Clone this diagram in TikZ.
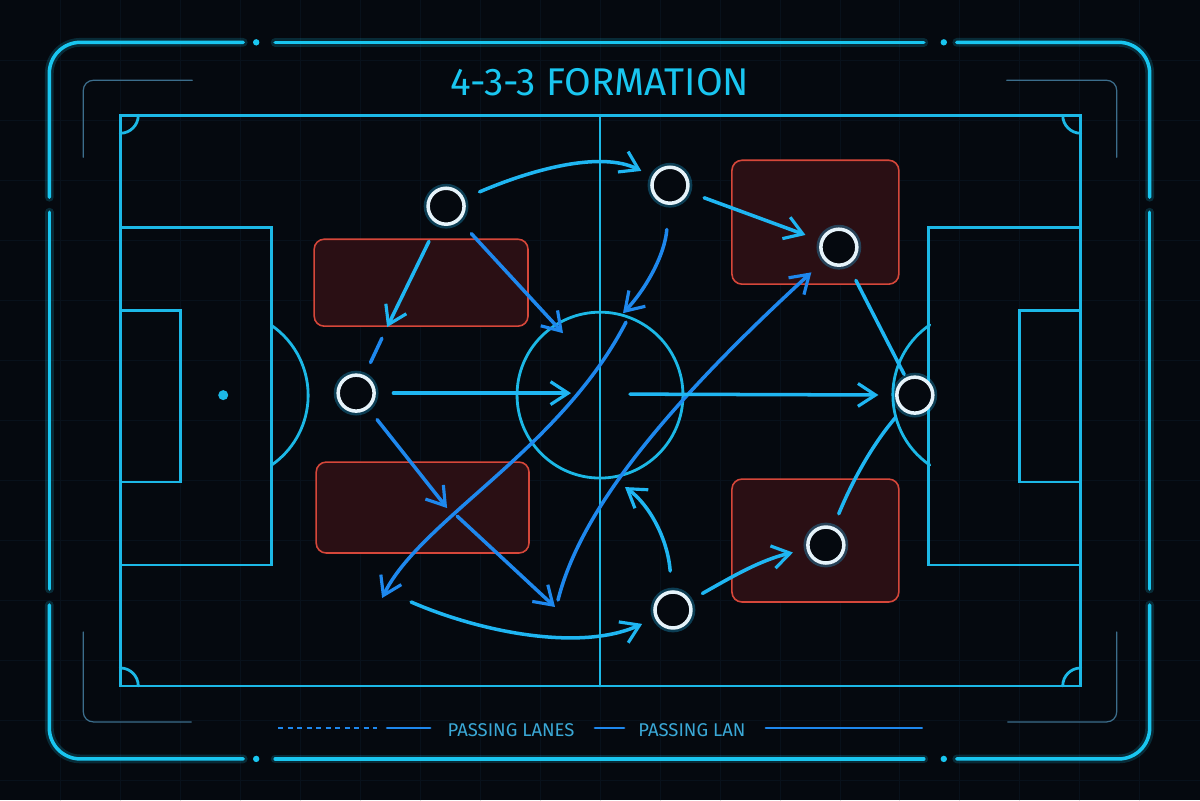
\documentclass[tikz,border=0pt]{standalone}
\usepackage{fontspec}
\setmainfont{Fira Sans}
\usetikzlibrary{arrows.meta}

\definecolor{bgc}{HTML}{05090F}
\definecolor{gridc}{HTML}{08111B}
\definecolor{pitchc}{HTML}{1CB8E6}
\definecolor{framec}{HTML}{19C6F0}
\definecolor{thinc}{HTML}{3C6E8C}
\definecolor{cyanp}{HTML}{1FB6F2}
\definecolor{bluep}{HTML}{1E88EE}
\definecolor{zonered}{HTML}{D6473A}
\definecolor{zonedark}{HTML}{2A0F14}
\definecolor{playerc}{HTML}{E6F3FA}
\definecolor{labelc}{HTML}{3AA8D6}

\begin{document}
\begin{tikzpicture}[x=0.02cm, y=-0.02cm, line cap=round,
        pitch/.style = {draw=pitchc, line width=1.6pt},
        frame/.style = {draw=framec, line width=2pt, rounded corners=0.62cm,
                        preaction={draw=framec, line width=5pt, opacity=.18}},
        thin/.style = {draw=thinc, line width=0.7pt, rounded corners=0.2cm},
        main/.style = {draw=playerc, circle, line width=2pt, minimum size=0.72cm, inner sep=0pt, fill=bgc,
                       preaction={draw=cyanp, line width=5pt, opacity=.3}},
        zone/.style = {draw=zonered, fill=zonedark, rounded corners=0.2cm, line width=0.9pt, inner sep=0pt},
        lane/.style = {line width=2pt},
        pass/.style = {lane, -{Straight Barb[length=10pt, width=13pt, line width=1.8pt]}}]

        \fill[bgc] (0,0) rectangle (1200,800);
        \foreach \g in {60,120,...,1140} \draw[gridc, line width=0.4pt] (\g,0) -- (\g,800);
        \foreach \g in {60,120,...,780} \draw[gridc, line width=0.4pt] (0,\g) -- (1200,\g);

        % outer frame and corner brackets
        \draw[frame] (243,42) -- (49,42) -- (49,197);
        \draw[frame] (275,42) -- (924,42);
        \draw[frame] (957,42) -- (1150,42) -- (1150,197);
        \draw[frame] (1150,212) -- (1150,589);
        \draw[frame] (1150,605) -- (1150,759) -- (957,759);
        \draw[frame] (924,759) -- (275,759);
        \draw[frame] (243,759) -- (49,759) -- (49,605);
        \draw[frame] (49,589) -- (49,212);
        \foreach \dx/\dy in {256/42, 944/42, 256/759, 944/759} \fill[framec] (\dx,\dy) circle[radius=3.2];
        \draw[thin] (192,80) -- (83,80) -- (83,157);
        \draw[thin] (1007,80) -- (1117,80) -- (1117,157);
        \draw[thin] (83,632) -- (83,722) -- (191,722);
        \draw[thin] (1117,632) -- (1117,722) -- (1008,722);

        \node[text=framec, font=\fontsize{22}{24}\selectfont] (title) at (600,82) {4-3-3 FORMATION};

        % pitch
        \draw[pitch] (120,115) rectangle (1081,686);
        \draw[pitch] (600,115) -- (600,686);
        \draw[pitch] (600,395) circle[radius=83];
        \draw[pitch] (120,227) rectangle (271,565);
        \draw[pitch] (120,310) rectangle (180,482);
        \draw[pitch] (929,227) rectangle (1081,565);
        \draw[pitch] (1020,310) rectangle (1081,482);
        \fill[pitchc] (223,395) circle[radius=5];
        \draw[pitch] (271,325) arc[start angle=-55.6, end angle=55.6, radius=85];
        \draw[pitch] (930,465) arc[start angle=124.4, end angle=235.6, radius=85];
        \draw[pitch] (138,115) arc[start angle=0, end angle=90, radius=18];
        \draw[pitch] (1081,133) arc[start angle=90, end angle=180, radius=18];
        \draw[pitch] (1063,686) arc[start angle=180, end angle=270, radius=18];
        \draw[pitch] (120,668) arc[start angle=270, end angle=360, radius=18];

        % pressing zones
        \node[zone, minimum width=4.28cm, minimum height=1.74cm] (z1) at (421,282.5) {};
        \node[zone, minimum width=4.26cm, minimum height=1.82cm] (z2) at (422.5,507.5) {};
        \node[zone, minimum width=3.34cm, minimum height=2.48cm] (z3) at (815.5,222) {};
        \node[zone, minimum width=3.34cm, minimum height=2.46cm] (z4) at (815.5,540.5) {};

        % players
        \node[main] (1) at (446,206) {};
        \node[main] (2) at (356,393) {};
        \node[main] (3) at (670,185) {};
        \node[main] (4) at (839,247) {};
        \node[main] (5) at (915,395) {};
        \node[main] (6) at (673,610) {};
        \node[main] (7) at (826,545) {};

        \coordinate (k1) at (387,327);
        \coordinate (k3) at (563,333);
        \coordinate (k4) at (571,393);
        \coordinate (k5) at (447,508);
        \coordinate (k6) at (457,516);
        \coordinate (k7) at (555,607);
        \coordinate (k8) at (626,322);
        \coordinate (k9) at (382,598);
        \coordinate (k10) at (558,600);
        \coordinate (k11) at (623,313);
        \coordinate (k12) at (630,394);
        \coordinate (k13) at (625,487);
        \coordinate (k14) at (411,602);

        % passing lanes
        \draw[pass, cyanp, shorten <=9.5pt, shorten >=7pt] (1) .. controls (530,170) and (600,150) .. (3);
        \draw[pass, cyanp, shorten <=11pt] (1) -- (k1);
        \draw[lane, bluep, shorten <=7pt, shorten >=8pt] (k1) -- (2);
        \draw[pass, bluep, shorten <=10pt] (1) -- (k3);
        \draw[pass, cyanp, shorten <=10pt] (2) -- (k4);
        \draw[pass, bluep, shorten <=8pt] (2) -- (k5);
        \draw[pass, bluep] (k6) -- (k7);
        \draw[pass, bluep] (k8) .. controls (560,450) and (420,520) .. (k9);
        \draw[pass, bluep, shorten >=10pt] (k10) .. controls (578,520) and (650,420) .. (4);
        \draw[pass, cyanp, shorten <=9.5pt, shorten >=9pt] (3) -- (4);
        \draw[pass, bluep, shorten <=14pt] (3) .. controls (665,255) and (645,290) .. (k11);
        \draw[pass, cyanp, shorten >=9.5pt] (k12) -- (5);
        \draw[lane, cyanp, shorten <=10pt, shorten >=2pt] (4) -- (5);
        \draw[lane, cyanp, shorten <=8pt, shorten >=5.5pt] (7) .. controls (852,482) and (872,445) .. (5);
        \draw[pass, cyanp, shorten <=11pt] (6) .. controls (668,540) and (650,505) .. (k13);
        \draw[pass, cyanp, shorten >=8pt] (k14) .. controls (480,632) and (580,652) .. (6);
        \draw[pass, cyanp, shorten <=8pt, shorten >=8pt] (6) .. controls (730,578) and (760,560) .. (7);

        % legend
        \draw[bluep, line width=1.6pt, dash pattern=on 3pt off 2.4pt, line cap=butt] (278,728) -- (377,728);
        \draw[bluep, line width=1.6pt] (387,728) -- (430,728);
        \node[text=labelc, font=\fontsize{10.5}{12}\selectfont] (lg1) at (511,730) {PASSING LANES};
        \draw[bluep, line width=1.6pt] (595,728) -- (624,728);
        \node[text=labelc, font=\fontsize{10.5}{12}\selectfont] (lg2) at (692,730) {PASSING LAN};
        \draw[bluep, line width=1.6pt] (766,728) -- (922,728);
    \end{tikzpicture}
\end{document}
